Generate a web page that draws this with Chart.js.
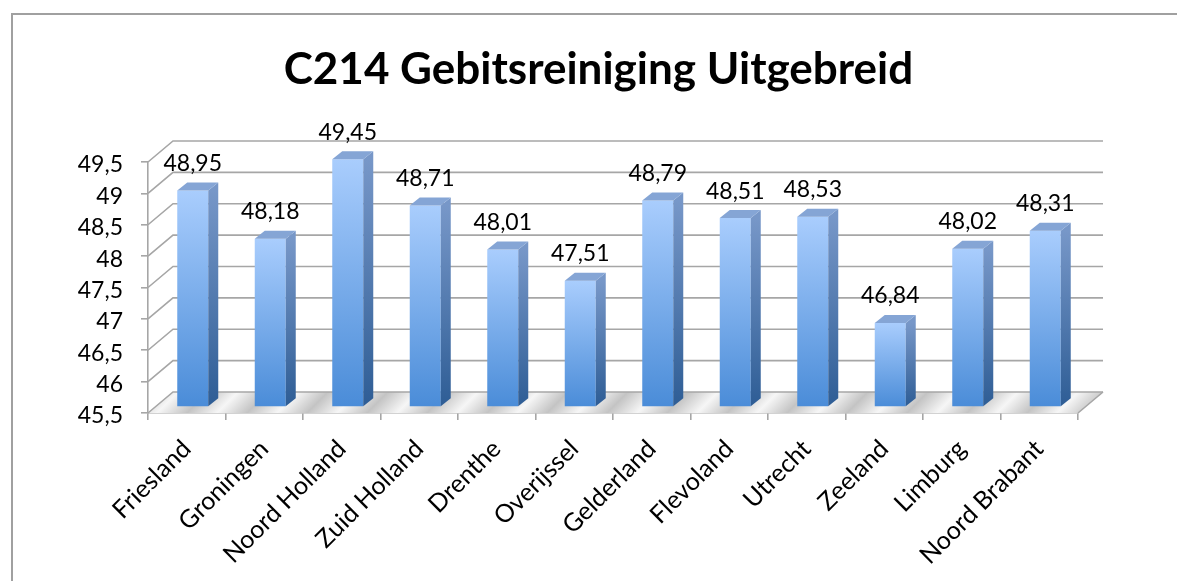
<!DOCTYPE html>
<html><head><meta charset="utf-8">
<script src="https://cdn.jsdelivr.net/npm/chart.js@4.4.0/dist/chart.umd.min.js"></script>
<style>html,body{margin:0;padding:0;background:#fff;overflow:hidden;} canvas{position:absolute;left:0;top:0;}</style>
</head><body>
<canvas id="c" width="1177" height="581"></canvas>
<script>
const titleText = 'C214 Gebitsreiniging Uitgebreid';
const categories = ['Friesland','Groningen','Noord Holland','Zuid Holland','Drenthe','Overijssel','Gelderland','Flevoland','Utrecht','Zeeland','Limburg','Noord Brabant'];
const values = [48.95, 48.18, 49.45, 48.71, 48.01, 47.51, 48.79, 48.51, 48.53, 46.84, 48.02, 48.31];
const yTicks = [45.5, 46, 46.5, 47, 47.5, 48, 48.5, 49, 49.5];

const FONT = 'Lato';
const WALL = {dx: 25, dy: -21};
const BARPLANE = {dx: 6, dy: -6};
const DEPTH = {dx: 10, dy: -8};
const GRID = '#a6a6a6';
const fmt = v => String(v).replace('.', ',');

function floorPattern(ctx) {
  const t = document.createElement('canvas');
  t.width = 60; t.height = 60;
  const c = t.getContext('2d');
  const g = c.createLinearGradient(0, 0, 60, 60);
  g.addColorStop(0, '#c4c4c4'); g.addColorStop(0.25, '#f6f6f6');
  g.addColorStop(0.5, '#c4c4c4'); g.addColorStop(0.75, '#f6f6f6'); g.addColorStop(1, '#c4c4c4');
  c.fillStyle = g; c.fillRect(0, 0, 60, 60);
  return ctx.createPattern(t, 'repeat');
}

const threeD = {
  id: 'threeD',
  beforeDraw(chart) {
    const ctx = chart.ctx;
    ctx.save();
    ctx.strokeStyle = '#a0a0a0'; ctx.lineWidth = 2;
    ctx.beginPath(); ctx.moveTo(12, 581); ctx.lineTo(12, 14); ctx.lineTo(1177, 14); ctx.stroke();
    ctx.restore();
  },
  beforeDatasetsDraw(chart) {
    const ctx = chart.ctx, a = chart.chartArea, ys = chart.scales.y;
    const L = a.left, R = a.right, B = ys.getPixelForValue(yTicks[0]);
    ctx.save();
    ctx.beginPath();
    ctx.moveTo(L, B); ctx.lineTo(R, B); ctx.lineTo(R + WALL.dx, B + WALL.dy); ctx.lineTo(L + WALL.dx, B + WALL.dy); ctx.closePath();
    ctx.fillStyle = floorPattern(ctx); ctx.fill();
    ctx.strokeStyle = GRID; ctx.lineWidth = 1.6;
    ctx.beginPath(); ctx.moveTo(R, B); ctx.lineTo(R + WALL.dx, B + WALL.dy); ctx.stroke();
    yTicks.forEach(v => {
      const y = ys.getPixelForValue(v);
      ctx.beginPath();
      ctx.moveTo(L, y); ctx.lineTo(L + WALL.dx, y + WALL.dy); ctx.lineTo(R + WALL.dx, y + WALL.dy);
      ctx.stroke();
    });
    ctx.restore();
    ctx.save();
    ctx.translate(BARPLANE.dx, BARPLANE.dy);
  },
  afterDatasetsDraw(chart) {
    const ctx = chart.ctx;
    const meta = chart.getDatasetMeta(0);
    meta.data.forEach(bar => {
      const p = bar.getProps(['x', 'y', 'base', 'width'], true);
      const l = p.x - p.width / 2, r = p.x + p.width / 2;
      const sg = ctx.createLinearGradient(0, p.y, 0, p.base);
      sg.addColorStop(0, '#7797c8'); sg.addColorStop(1, '#2e5d95');
      ctx.beginPath();
      ctx.moveTo(r, p.y); ctx.lineTo(r + DEPTH.dx, p.y + DEPTH.dy); ctx.lineTo(r + DEPTH.dx, p.base + DEPTH.dy); ctx.lineTo(r, p.base); ctx.closePath();
      ctx.fillStyle = sg; ctx.fill();
      ctx.beginPath();
      ctx.moveTo(l, p.y); ctx.lineTo(l + DEPTH.dx, p.y + DEPTH.dy); ctx.lineTo(r + DEPTH.dx, p.y + DEPTH.dy); ctx.lineTo(r, p.y); ctx.closePath();
      ctx.fillStyle = '#85a5d5'; ctx.fill();
    });
    ctx.fillStyle = '#000';
    ctx.font = '23px ' + FONT;
    ctx.textAlign = 'center'; ctx.textBaseline = 'middle';
    meta.data.forEach((bar, i) => {
      const p = bar.getProps(['x', 'y'], true);
      ctx.fillText(fmt(values[i]), p.x, p.y - 27);
    });
    ctx.restore();
  }
};

new Chart(document.getElementById('c'), {
  type: 'bar',
  data: {
    labels: categories,
    datasets: [{
      data: values,
      base: yTicks[0],
      clip: false,
      barPercentage: 0.4,
      categoryPercentage: 1.0,
      borderWidth: 0,
      backgroundColor: (c) => {
        const ch = c.chart;
        if (!ch.chartArea || c.raw === undefined) return '#6fa3e6';
        const ys = ch.scales.y;
        const g = ch.ctx.createLinearGradient(0, ys.getPixelForValue(c.raw), 0, ys.getPixelForValue(yTicks[0]));
        g.addColorStop(0, '#a9cdfd'); g.addColorStop(1, '#4a8cd8');
        return g;
      }
    }]
  },
  options: {
    responsive: false,
    animation: false,
    devicePixelRatio: 1,
    layout: {padding: {left: 20, right: 0, top: 0, bottom: 0}},
    plugins: {
      legend: {display: false},
      tooltip: {enabled: false},
      title: {
        display: true, text: titleText, color: '#000',
        font: {family: FONT, size: 44, weight: 'bold', lineHeight: 1.2},
        padding: {top: 43, bottom: 66.2}
      }
    },
    scales: {
      x: {
        grid: {display: true, drawOnChartArea: false, offset: true, tickLength: 7, color: GRID, lineWidth: 1.6},
        border: {display: true, color: GRID, width: 1.6},
        ticks: {color: '#000', font: {family: FONT, size: 25}, minRotation: 45, maxRotation: 45, autoSkip: false, padding: 14},
        afterFit(s) { s.height = 168; }
      },
      y: {
        min: 45.5, max: 49.5,
        afterBuildTicks(s) { s.ticks = yTicks.map(v => ({value: v})); },
        grid: {display: true, drawOnChartArea: false, tickLength: 7, color: GRID, lineWidth: 1.6},
        border: {display: true, color: GRID, width: 1.6},
        ticks: {color: '#000', font: {family: FONT, size: 23}, padding: 18, labelOffset: 3, callback: v => fmt(v)},
        afterFit(s) { s.width = 128; }
      },
      yr: {
        position: 'right',
        display: true,
        grid: {display: false},
        border: {display: false},
        ticks: {display: false},
        afterFit(s) { s.width = 99; }
      }
    }
  },
  plugins: [threeD]
});
</script>
</body></html>
